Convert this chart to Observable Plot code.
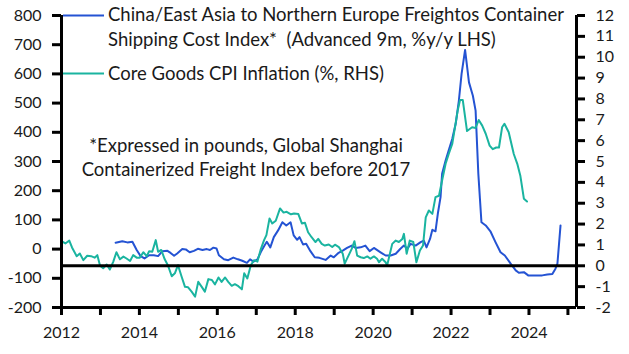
<!DOCTYPE html>
<html><head><meta charset="utf-8">
<script src="https://cdn.jsdelivr.net/npm/d3@7"></script>
<script src="https://cdn.jsdelivr.net/npm/@observablehq/plot@0.6"></script>
<style>
body{margin:0;background:#fff;}
#wrap{position:relative;width:629px;height:354px;}
svg{font-family:Lato,sans-serif;}
</style></head><body><div id="wrap"></div>
<script>
// ---- Data ----
const freightYears = [2013.39,2013.56,2013.69,2013.82,2013.93,2014.03,2014.13,2014.25,2014.37,2014.48,2014.59,2014.72,2014.80,2014.89,2014.97,2015.10,2015.19,2015.29,2015.40,2015.50,2015.62,2015.73,2015.81,2015.90,2015.98,2016.04,2016.17,2016.28,2016.41,2016.53,2016.64,2016.76,2016.84,2016.93,2017.03,2017.12,2017.20,2017.27,2017.36,2017.45,2017.56,2017.67,2017.77,2017.88,2017.96,2018.05,2018.11,2018.20,2018.28,2018.39,2018.50,2018.62,2018.78,2018.91,2018.99,2019.10,2019.22,2019.33,2019.45,2019.55,2019.68,2019.80,2019.91,2020.02,2020.19,2020.32,2020.45,2020.58,2020.70,2020.79,2020.88,2020.96,2021.09,2021.22,2021.30,2021.37,2021.46,2021.52,2021.60,2021.66,2021.73,2021.77,2021.86,2021.95,2022.03,2022.12,2022.20,2022.27,2022.36,2022.46,2022.56,2022.63,2022.70,2022.78,2022.89,2023.01,2023.14,2023.27,2023.38,2023.53,2023.66,2023.74,2023.87,2023.98,2024.17,2024.34,2024.47,2024.60,2024.68,2024.73,2024.81];
const freightValues = [22,27,23,25,-3,-24,-32,-21,-21,-24,-7,-6,-13,-23,-15,0,-1,-11,-6,1,-3,0,-3,5,2,-21,-35,-38,-29,-35,-40,-47,-35,-43,-35,-9,10,25,6,41,64,92,81,92,47,32,41,16,18,-7,-28,-30,-37,-22,-28,-14,-5,4,12,4,6,12,-7,4,-11,-22,-22,-16,1,12,1,18,12,24,29,6,35,66,61,121,178,258,303,343,377,430,508,600,682,571,525,474,258,92,81,61,24,-11,-22,-50,-73,-81,-79,-90,-90,-90,-87,-85,-67,-50,81];

const cpiYears = [2012.00,2012.10,2012.20,2012.27,2012.39,2012.47,2012.56,2012.66,2012.76,2012.85,2012.92,2012.99,2013.07,2013.16,2013.24,2013.33,2013.41,2013.50,2013.59,2013.67,2013.76,2013.84,2013.93,2014.01,2014.10,2014.19,2014.25,2014.33,2014.42,2014.48,2014.56,2014.65,2014.73,2014.83,2014.91,2014.99,2015.08,2015.17,2015.25,2015.34,2015.43,2015.51,2015.60,2015.68,2015.77,2015.86,2015.94,2016.03,2016.11,2016.20,2016.28,2016.37,2016.45,2016.54,2016.63,2016.69,2016.77,2016.86,2016.94,2017.03,2017.11,2017.20,2017.26,2017.34,2017.41,2017.50,2017.61,2017.70,2017.78,2017.89,2017.97,2018.08,2018.17,2018.25,2018.33,2018.42,2018.52,2018.59,2018.68,2018.76,2018.86,2018.95,2019.02,2019.12,2019.22,2019.27,2019.33,2019.45,2019.52,2019.59,2019.68,2019.76,2019.85,2019.93,2020.02,2020.10,2020.15,2020.23,2020.32,2020.36,2020.43,2020.49,2020.58,2020.66,2020.75,2020.79,2020.86,2020.94,2021.03,2021.11,2021.20,2021.28,2021.35,2021.43,2021.52,2021.60,2021.69,2021.77,2021.86,2021.94,2022.03,2022.10,2022.17,2022.23,2022.30,2022.41,2022.54,2022.63,2022.71,2022.80,2022.89,2022.99,2023.07,2023.16,2023.23,2023.31,2023.37,2023.48,2023.61,2023.70,2023.78,2023.87,2023.95];
const cpiValues = [1.18,1.07,1.21,0.88,0.46,0.59,0.27,0.48,0.46,0.39,0.51,0.00,-0.12,0.06,-0.18,0.20,0.65,0.31,0.44,0.35,0.23,0.51,0.39,0.39,0.65,0.46,0.70,0.67,1.23,0.67,0.76,0.31,0.03,-0.50,-0.36,0.03,-0.50,-1.01,-1.03,-1.24,-1.48,-0.77,-1.01,-1.24,-0.64,-0.68,-0.89,-0.56,-0.77,-0.56,-0.77,-0.96,-0.88,-0.98,-1.13,-0.36,-0.61,0.03,0.27,0.20,0.76,1.23,1.47,2.27,2.03,2.16,2.75,2.55,2.59,2.47,2.51,2.48,2.03,2.06,1.61,1.37,1.14,1.29,1.05,0.97,1.02,0.90,1.01,0.90,0.58,0.10,0.34,0.81,1.18,0.49,0.41,0.37,0.45,0.34,0.45,0.34,0.17,0.34,0.17,0.02,0.58,1.05,1.21,1.14,1.29,1.53,0.58,1.21,1.14,0.17,0.73,0.97,2.32,2.65,2.49,3.29,3.36,4.09,4.89,5.36,5.84,6.64,7.44,7.95,7.95,6.46,6.64,6.61,6.99,6.72,6.33,5.76,5.59,5.67,5.67,6.64,6.81,6.40,5.36,4.89,4.30,3.21,3.08];

const leftTicks = [-200,-100,0,100,200,300,400,500,600,700,800];
const rightTicks = [-2,-1,0,1,2,3,4,5,6,7,8,9,10,11,12];
const yearTicks = d3.range(2012, 2026);
const seriesNames = ["China/East Asia to Northern Europe Freightos Container", "Shipping Cost Index*  (Advanced 9m, %y/y LHS)", "Core Goods CPI Inflation (%, RHS)"];
const noteLines = ["*Expressed in pounds, Global Shanghai", "Containerized Freight Index before 2017"];

const BLUE = "#2453d3", TEAL = "#1ab4a0", INK = "#1a1a1a";
const xMax = 2025.22;
// RHS -> LHS mapping (RHS -2..12 aligned with LHS -200..800)
const toLeft = r => (r + 2) / 14 * 1000 - 200;
const toRight = l => (l + 200) / 1000 * 14 - 2;

const freight = freightYears.map((x, i) => ({x, y: freightValues[i]}));
const cpi = cpiYears.map((x, i) => ({x, y: toLeft(cpiValues[i])}));

const chart = Plot.plot({
  width: 629, height: 354,
  marginLeft: 61, marginRight: 53, marginTop: 15, marginBottom: 47,
  style: {fontFamily: "Lato, sans-serif", fontSize: "16px", color: INK, background: "#fff"},
  x: {type: "linear", domain: [2012, xMax]},
  y: {domain: [-200, 800]},
  marks: [
    Plot.axisY(leftTicks, {anchor: "left", tickSize: 9, tickPadding: 11, strokeWidth: 3, stroke: "#000", tickFormat: d => String(d), label: null, fontSize: 16, fill: INK}),
    Plot.axisY(rightTicks.map(toLeft), {anchor: "right", tickSize: 8, tickPadding: 11, strokeWidth: 3, stroke: "#000", tickFormat: d => String(Math.round(toRight(d))), label: null, fontSize: 16, fill: INK}),
    Plot.axisX(yearTicks, {anchor: "bottom", tickSize: 8, tickPadding: 11, strokeWidth: 3, stroke: "#000", tickFormat: d => d % 2 === 0 ? String(d) : "", label: null, fontSize: 16, fill: INK}),
    Plot.line(freight, {x: "x", y: "y", stroke: BLUE, strokeWidth: 2}),
    Plot.line(cpi, {x: "x", y: "y", stroke: TEAL, strokeWidth: 2}),
    Plot.ruleY([toLeft(0)], {stroke: "#000", strokeWidth: 3}),
    Plot.ruleY([-200], {stroke: "#000", strokeWidth: 3}),
    Plot.ruleX([2012, xMax], {stroke: "#000", strokeWidth: 3})
  ]
});
document.getElementById("wrap").appendChild(chart);

// legend + note
const svg = d3.select(chart);
const g = svg.append("g").attr("font-family", "Lato, sans-serif").attr("font-size", 18.5).attr("fill", INK).attr("text-anchor", "start");
g.append("line").attr("x1", 63).attr("x2", 104).attr("y1", 15.5).attr("y2", 15.5).attr("stroke", BLUE).attr("stroke-width", 2);
g.append("line").attr("x1", 63).attr("x2", 104).attr("y1", 73.5).attr("y2", 73.5).attr("stroke", TEAL).attr("stroke-width", 2);
g.append("text").attr("x", 108).attr("y", 21).text(seriesNames[0]);
g.append("text").attr("x", 108).attr("y", 46).style("white-space", "pre").text(seriesNames[1]);
g.append("text").attr("x", 108).attr("y", 80).text(seriesNames[2]);
g.append("text").attr("x", 246).attr("y", 152).attr("text-anchor", "middle").text(noteLines[0]);
g.append("text").attr("x", 246).attr("y", 176).attr("text-anchor", "middle").text(noteLines[1]);
</script></body></html>
